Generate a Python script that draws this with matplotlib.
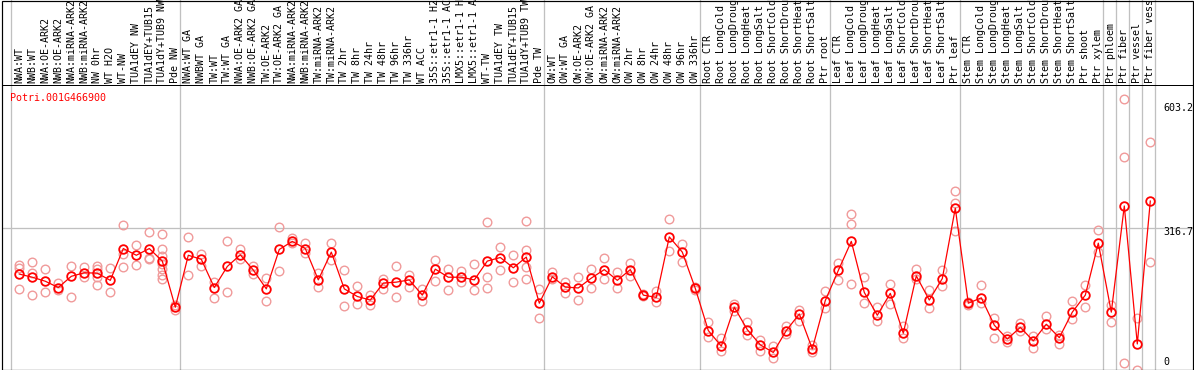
import matplotlib
matplotlib.use("Agg")
import matplotlib.pyplot as plt
from matplotlib.patches import Rectangle
from matplotlib.transforms import blended_transform_factory

# ── Data ──────────────────────────────────────────────────────────
GENE = "Potri.001G466900"

labels = [
    "NWA:WT", "NWB:WT", "NWA:OE-ARK2", "NWB:OE-ARK2", "NWA:miRNA-ARK2",
    "NWB:miRNA-ARK2", "NW 0hr", "WT H2O", "WT-NW", "TUA1dEY NW",
    "TUA1dEY+TUB15", "TUA1dY+TUB9 NW", "Pde NW",
    "NWA:WT GA", "NWBWT GA", "TW:WT", "TW:WT GA", "NWA:OE-ARK2 GA",
    "NWB:OE-ARK2 GA", "TW:OE-ARK2", "TW:OE-ARK2 GA", "NWA:miRNA-ARK2",
    "NWB:miRNA-ARK2", "TW:miRNA-ARK2", "TW:miRNA-ARK2", "TW 2hr", "TW 8hr",
    "TW 24hr", "TW 48hr", "TW 96hr", "TW 336hr", "WT ACC", "35S::etr1-1 H2",
    "35S::etr1-1 AC", "LMX5::etr1-1 H", "LMX5::etr1-1 A", "WT-TW",
    "TUA1dEY TW", "TUA1dEY+TUB15", "TUA1dY+TUB9 TW", "Pde TW",
    "OW:WT", "OW:WT GA", "OW:OE-ARK2", "OW:OE-ARK2 GA", "OW:miRNA-ARK2",
    "OW:miRNA-ARK2", "OW 2hr", "OW 8hr", "OW 24hr", "OW 48hr", "OW 96hr",
    "OW 336hr",
    "Root CTR", "Root LongCold", "Root LongDroug", "Root LongHeat",
    "Root LongSalt", "Root ShortCold", "Root ShortDrou", "Root ShortHeat",
    "Root ShortSalt", "Ptr root",
    "Leaf CTR", "Leaf LongCold", "Leaf LongDroug", "Leaf LongHeat",
    "Leaf LongSalt", "Leaf ShortCold", "Leaf ShortDrou", "Leaf ShortHeat",
    "Leaf ShortSalt", "Ptr leaf",
    "Stem CTR", "Stem LongCold", "Stem LongDroug", "Stem LongHeat",
    "Stem LongSalt", "Stem ShortCold", "Stem ShortDrou", "Stem ShortHeat",
    "Stem ShortSalt", "Ptr shoot", "Ptr xylem",
    "Ptr phloem", "Ptr fiber", "Ptr vessel", "Ptr fiber vess",
]

# first index of each sample group (last entry = end)
group_starts = [0, 13, 41, 53, 63, 73, 84, 85, 86, 87, 88]

means = [
    213, 206, 197, 183, 208, 216, 215, 199, 270, 255, 270, 242, 139,
    255, 246, 183, 230, 256, 222, 180, 268, 286, 270, 200, 262, 180, 163,
    155, 193, 195, 200, 166, 224, 206, 206, 200, 242, 250, 227, 251, 148,
    207, 184, 182, 204, 223, 199, 223, 166, 161, 296, 262, 181,
    87, 52, 139, 89, 55, 38, 87, 124, 46, 154,
    221, 286, 172, 121, 170, 81, 209, 155, 203, 360,
    148, 160, 99, 68, 94, 64, 101, 71, 128, 166, 282,
    128, 365, 57, 376,
]

replicates = [
    [233, 226, 180], [239, 215, 166], [224, 172], [192, 177], [230, 162],
    [229, 207], [231, 224, 206, 188], [226, 173], [322, 258, 229], [279, 233],
    [308, 250, 246], [302, 270, 253, 235, 224, 211, 202], [133, 144],
    [295, 212], [258, 232], [196, 160], [286, 173], [268, 246], [231, 214],
    [204, 154], [318, 220], [294, 282], [283, 261], [216, 185], [282, 244],
    [222, 142], [186, 147], [167, 144], [201, 180], [231, 162], [212, 185],
    [179, 154], [245, 198], [224, 177], [220, 195], [235, 177],
    [329, 207, 183], [273, 222], [256, 195], [331, 267, 228, 203], [179, 115],
    [218, 201], [195, 170], [206, 156], [224, 183], [248, 202], [217, 183],
    [238, 209], [168, 164], [176, 151], [337, 264], [281, 239], [184, 178],
    [105, 73], [70, 42], [146, 131], [105, 77], [66, 42], [53, 25], [96, 79],
    [133, 109], [55, 38], [175, 138],
    [237, 200], [347, 325, 190], [207, 148], [140, 109], [191, 146], [96, 71],
    [224, 201], [177, 137], [221, 187], [398, 372, 310],
    [151, 145], [188, 148], [114, 70], [75, 62], [104, 87], [75, 47],
    [119, 90], [77, 58], [153, 113], [188, 140], [311, 263],
    [143, 105], [603.2, 474, 14], [115, 0], [507, 241],
]

y_marks = [603.2, 316.7, 0]
y_mark_offsets = [-6.0, -3.2, 5.6]   # label offset from its value, points

# ── Figure ────────────────────────────────────────────────────────
W, H = 1194, 370
PX = 72 / 100   # one pixel in points
RED = "#ff0000"
PINK = "#f09a9a"
GRID = "#c0c0c0"
FONT = "DejaVu Sans Mono"

fig = plt.figure(figsize=(W / 100, H / 100), dpi=100)
ax = fig.add_axes([1.5 / W, 0.5 / H, 1191 / W, 284.5 / H])

step = 13.0
x0 = 19.3
ax.set_xlim((1.5 - x0) / step, (1192.5 - x0) / step)
ax.set_ylim(0, 284.5 / 0.448)
ax.set_xticks([])
ax.set_yticks([])
for sp in ax.spines.values():
    sp.set_linewidth(PX)
    sp.set_color("black")

xs = list(range(len(labels)))

# group separators run through the label header as well
for s in group_starts:
    ax.axvline(s - 0.615, ymin=0, ymax=1 + 85 / 284.5, color=GRID,
               lw=PX * 1.3, clip_on=False, zorder=1)
ax.axhline(y_marks[1], color=GRID, lw=PX * 1.3, zorder=1)

# replicates
for x, reps in zip(xs, replicates):
    ax.plot([x] * len(reps), reps, linestyle="none", marker="o",
            markersize=6.2, markerfacecolor="none", markeredgecolor=PINK,
            markeredgewidth=1.0, zorder=2)

# means
ax.plot(xs, means, color=RED, lw=0.9, marker="o", markersize=6.2,
        markerfacecolor="none", markeredgecolor=RED, markeredgewidth=1.3,
        zorder=3)

# header labels
trans = blended_transform_factory(ax.transData, ax.transAxes)
for x, lab in zip(xs, labels):
    ax.text(x, 1 + 2 / 284.5, lab, rotation=90, ha="center", va="bottom",
            fontsize=7.2, family=FONT, transform=trans, clip_on=False)

ax.text((10 - x0) / step, 0.956, GENE, color=RED, fontsize=7.2, family=FONT,
        ha="left", va="center", transform=trans)

# right-hand value marks
for val, off in zip(y_marks, y_mark_offsets):
    txt = ("%g" % val) if val else "0"
    ax.annotate(txt, xy=((1163 - x0) / step, val), xytext=(0, off),
                textcoords="offset points", ha="left", va="center",
                fontsize=7.2, family=FONT, annotation_clip=False)

# outer frame
fig.add_artist(Rectangle((1.5 / W, 0.5 / H), 1191 / W, 369 / H, fill=False,
                         lw=PX * 1.2, edgecolor="black",
                         transform=fig.transFigure))

fig.savefig("out.png", dpi=100)
